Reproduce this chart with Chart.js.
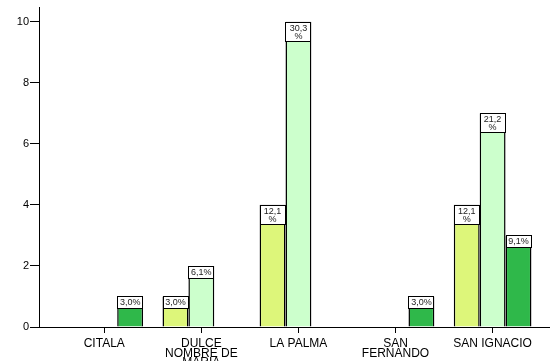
<!DOCTYPE html>
<html>
<head>
<meta charset="utf-8">
<script src="https://cdn.jsdelivr.net/npm/chart.js@4/dist/chart.umd.min.js"></script>
<style>
  html, body { margin: 0; padding: 0; background: #fff; overflow: hidden; }
  #chart { display: block; }
</style>
</head>
<body>
<canvas id="chart" width="550" height="370"></canvas>
<script>
// Municipios (eje X)
const categories = [
  ["CITALA"],
  ["DULCE", "NOMBRE DE", "MARIA"],
  ["LA PALMA"],
  ["SAN", "FERNANDO"],
  ["SAN IGNACIO"]
];

// Recuentos por serie (null = sin barra)
const serieA = [null, 1, 4, null, 4];
const serieB = [null, 2, 10, null, 7];
const serieC = [1, null, null, 1, 3];

const yTicks = [0, 2, 4, 6, 8, 10];

const total = [...serieA, ...serieB, ...serieC].reduce((s, v) => s + (v || 0), 0);

// porcentaje con coma decimal, como en el original
function pct(v) {
  return (v / total * 100).toFixed(1).replace('.', ',') + '%';
}

const font = '"Liberation Sans", Arial, sans-serif';

// etiquetas blancas encima de cada barra
const pctLabels = {
  id: 'pctLabels',
  afterDatasetsDraw(chart) {
    const ctx = chart.ctx;
    ctx.save();
    ctx.font = '9px ' + font;
    ctx.textAlign = 'center';
    ctx.textBaseline = 'middle';
    chart.data.datasets.forEach((ds, di) => {
      const meta = chart.getDatasetMeta(di);
      meta.data.forEach((bar, i) => {
        const v = ds.data[i];
        if (v == null) return;
        const txt = pct(v);
        const lines = ctx.measureText(txt).width > bar.width - 4 ? [txt.slice(0, -1), '%'] : [txt];
        const h = lines.length === 1 ? 13 : 20;
        const left = Math.round(bar.x - bar.width / 2);
        const top = Math.round(bar.y);
        const w = Math.round(bar.width);
        ctx.fillStyle = '#fff';
        ctx.fillRect(left, top, w, h);
        ctx.strokeStyle = '#000';
        ctx.lineWidth = 1;
        ctx.strokeRect(left + 0.5, top + 0.5, w - 1, h - 1);
        ctx.fillStyle = '#222';
        lines.forEach((l, k) => ctx.fillText(l, bar.x, top + 6.5 + k * 8.5));
      });
    });
    ctx.restore();
  }
};

const H = 370;

new Chart(document.getElementById('chart'), {
  type: 'bar',
  data: {
    labels: categories.map((_, i) => i),
    datasets: [
      { data: serieA, backgroundColor: '#ddf67a' },
      { data: serieB, backgroundColor: '#ccffcc' },
      { data: serieC, backgroundColor: '#2fb84a' }
    ]
  },
  options: {
    responsive: false,
    animation: false,
    events: [],
    layout: { padding: { top: 5, left: 0, right: 0, bottom: 0 } },
    datasets: {
      bar: {
        borderColor: '#000',
        borderWidth: 1.5,
        categoryPercentage: 0.8,
        barPercentage: 1.0
      }
    },
    plugins: {
      legend: { display: false },
      tooltip: { enabled: false },
      title: { display: false }
    },
    scales: {
      x: {
        type: 'linear',
        offset: false,
        min: -0.672,
        max: 4.591,
        afterFit: (scale) => { scale.height = H - 327; },
        afterBuildTicks: (scale) => { scale.ticks = categories.map((_, i) => ({ value: i })); },
        grid: { offset: false, drawOnChartArea: false, drawTicks: true, tickLength: 6, color: '#000' },
        border: { display: true, color: '#000', width: 1 },
        ticks: {
          autoSkip: false,
          maxRotation: 0,
          padding: 6,
          color: '#000',
          font: { family: font, size: 12, lineHeight: 0.8 },
          callback: (v) => categories[v] || ''
        }
      },
      y: {
        min: 0,
        max: 10.46,
        afterFit: (scale) => { scale.width = 39; },
        afterBuildTicks: (scale) => { scale.ticks = yTicks.map(v => ({ value: v })); },
        grid: { drawOnChartArea: false, drawTicks: true, tickLength: 9, color: '#000' },
        border: { display: true, color: '#000', width: 1 },
        ticks: {
          padding: 1,
          color: '#000',
          font: { family: font, size: 11 }
        }
      }
    }
  },
  plugins: [pctLabels]
});
</script>
</body>
</html>
